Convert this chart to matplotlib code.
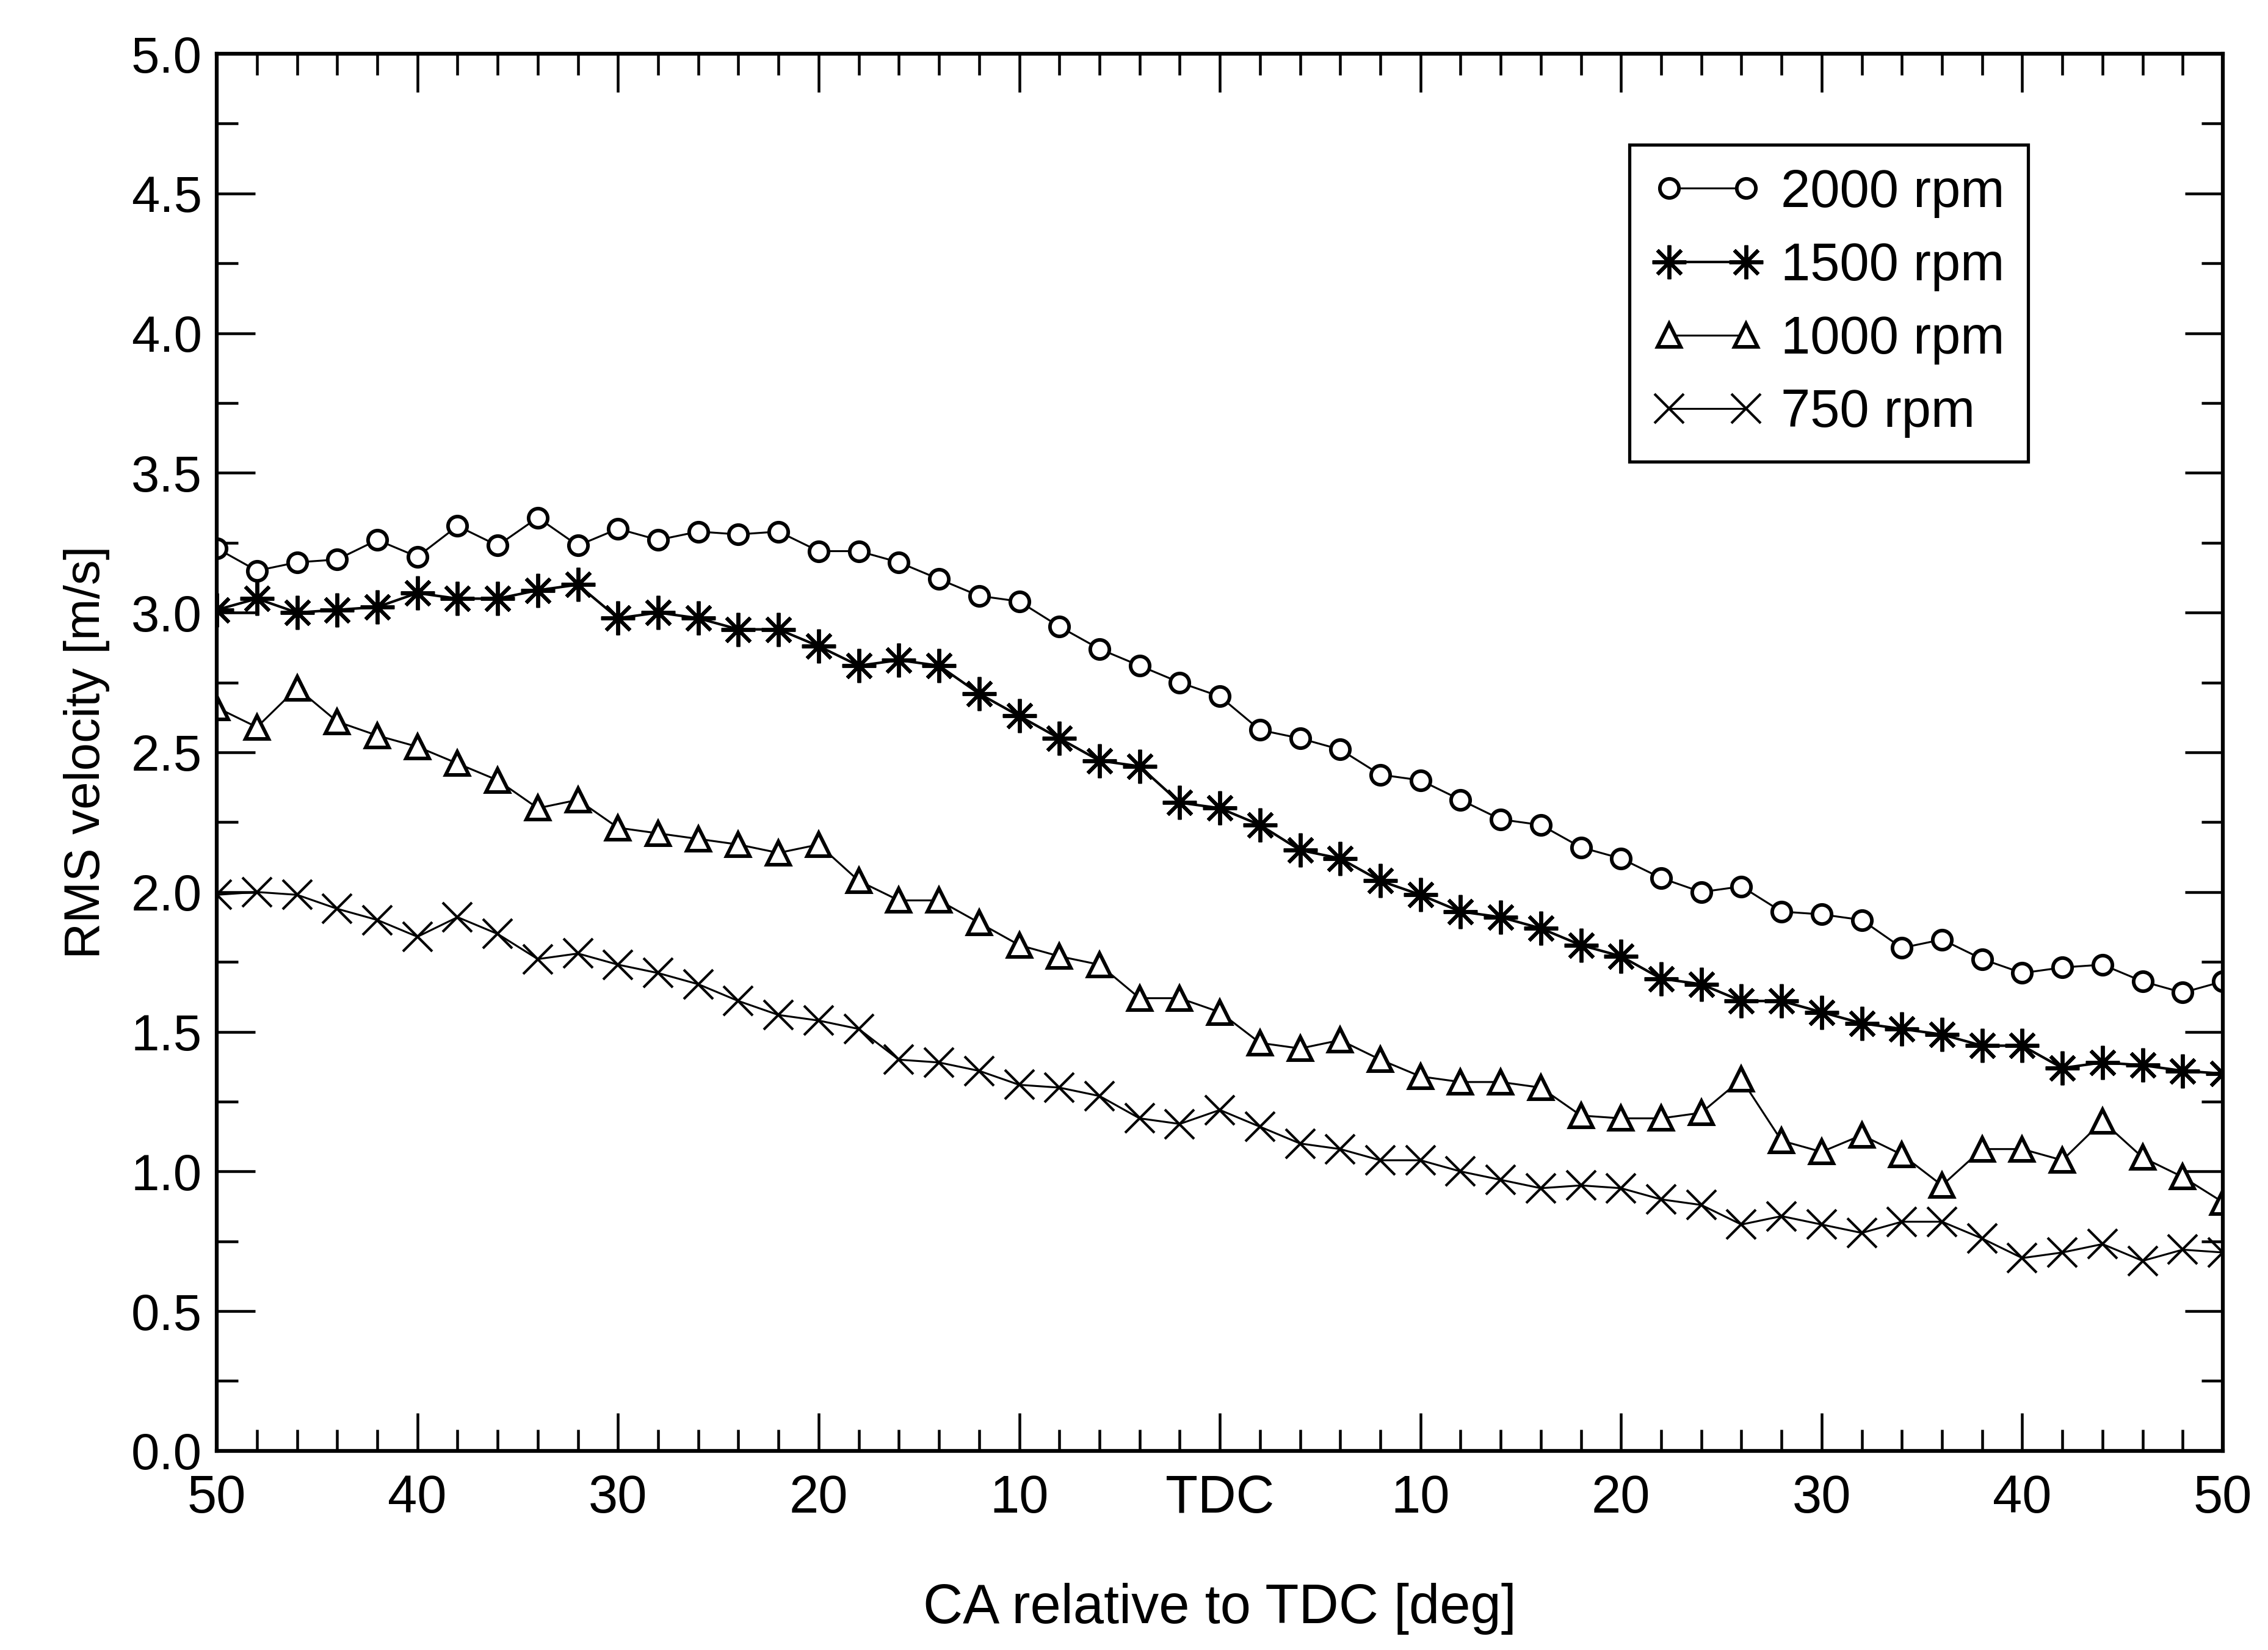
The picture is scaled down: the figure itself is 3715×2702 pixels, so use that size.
import matplotlib.pyplot as plt
from matplotlib.ticker import MultipleLocator

plt.rcParams['font.family'] = ['Liberation Sans', 'DejaVu Sans']

# crank angle, every 2 deg
ca = list(range(-50, 51, 2))

rms_2000 = [3.23, 3.15, 3.18, 3.19, 3.26, 3.20, 3.31, 3.24, 3.34, 3.24,
            3.30, 3.26, 3.29, 3.28, 3.29, 3.22, 3.22, 3.18, 3.12, 3.06,
            3.04, 2.95, 2.87, 2.81, 2.75, 2.70, 2.58, 2.55, 2.51, 2.42,
            2.40, 2.33, 2.26, 2.24, 2.16, 2.12, 2.05, 2.00, 2.02, 1.93,
            1.92, 1.90, 1.80, 1.83, 1.76, 1.71, 1.73, 1.74, 1.68, 1.64, 1.68]
rms_1500 = [3.01, 3.05, 3.00, 3.01, 3.02, 3.07, 3.05, 3.05, 3.08, 3.10,
            2.98, 3.00, 2.98, 2.94, 2.94, 2.88, 2.81, 2.83, 2.81, 2.71,
            2.63, 2.55, 2.47, 2.45, 2.32, 2.30, 2.24, 2.15, 2.12, 2.04,
            1.99, 1.93, 1.91, 1.87, 1.81, 1.77, 1.69, 1.67, 1.61, 1.61,
            1.57, 1.53, 1.51, 1.49, 1.45, 1.45, 1.37, 1.39, 1.38, 1.36, 1.35]
rms_1000 = [2.66, 2.59, 2.73, 2.61, 2.56, 2.52, 2.46, 2.40, 2.30, 2.33,
            2.23, 2.21, 2.19, 2.17, 2.14, 2.17, 2.04, 1.97, 1.97, 1.89,
            1.81, 1.77, 1.74, 1.62, 1.62, 1.57, 1.46, 1.44, 1.47, 1.40,
            1.34, 1.32, 1.32, 1.30, 1.20, 1.19, 1.19, 1.21, 1.33, 1.11,
            1.07, 1.13, 1.06, 0.95, 1.08, 1.08, 1.04, 1.18, 1.05, 0.98, 0.89]
rms_750 = [1.99, 2.00, 1.99, 1.94, 1.90, 1.84, 1.91, 1.85, 1.76, 1.78,
           1.74, 1.71, 1.67, 1.61, 1.56, 1.54, 1.51, 1.40, 1.39, 1.36,
           1.31, 1.30, 1.27, 1.19, 1.17, 1.22, 1.16, 1.10, 1.08, 1.04,
           1.04, 1.00, 0.97, 0.94, 0.95, 0.94, 0.90, 0.88, 0.81, 0.84,
           0.81, 0.78, 0.82, 0.82, 0.76, 0.69, 0.71, 0.74, 0.68, 0.72, 0.71]

xtick_pos = list(range(-50, 51, 10))
xtick_labels = ['50', '40', '30', '20', '10', 'TDC', '10', '20', '30', '40', '50']

fig = plt.figure(figsize=(14.86, 10.808), dpi=250)
ax = fig.add_axes([0.0956, 0.1207, 0.8845, 0.8467])

ax.plot(ca, rms_2000, color='black', lw=0.9, marker='o', ms=9,
        mfc='white', mec='black', mew=1.7, label='2000 rpm')
ax.plot(ca, rms_1500, color='black', lw=1.2, marker=(8, 2, 0), ms=16,
        mec='black', mew=1.7, label='1500 rpm')
ax.plot(ca, rms_1000, color='black', lw=0.9, marker='^', ms=11,
        mfc='white', mec='black', mew=1.7, label='1000 rpm')
ax.plot(ca, rms_750, color='black', lw=0.9, marker='x', ms=14,
        mec='black', mew=1.2, label='750 rpm')

ax.set_xlim(-50, 50)
ax.set_ylim(0, 5)
ax.set_xticks(xtick_pos)
ax.set_xticklabels(xtick_labels)
ax.xaxis.set_minor_locator(MultipleLocator(2))
ax.yaxis.set_major_locator(MultipleLocator(0.5))
ax.yaxis.set_minor_locator(MultipleLocator(0.25))
ax.yaxis.set_major_formatter(plt.FormatStrFormatter('%.1f'))

ax.tick_params(which='both', direction='in', top=True, right=True, width=1.3)
ax.tick_params(which='major', length=18)
ax.tick_params(which='minor', length=10)
ax.tick_params(axis='x', which='major', labelsize=25, pad=11)
ax.tick_params(axis='y', which='major', labelsize=24, pad=7)
for s in ax.spines.values():
    s.set_linewidth(1.8)

ax.set_xlabel('CA relative to TDC [deg]', fontsize=26, labelpad=28)
ax.set_ylabel('RMS velocity [m/s]', fontsize=23.5, labelpad=10)

leg = ax.legend(loc='upper right', bbox_to_anchor=(0.903, 0.935), borderaxespad=0,
                fontsize=25, numpoints=2, handlelength=2.05, handletextpad=0.35,
                labelspacing=0.45, fancybox=False, framealpha=1, borderpad=0.45)
leg.get_frame().set_edgecolor('black')
leg.get_frame().set_linewidth(1.5)

fig.savefig('out.png', dpi=250)
